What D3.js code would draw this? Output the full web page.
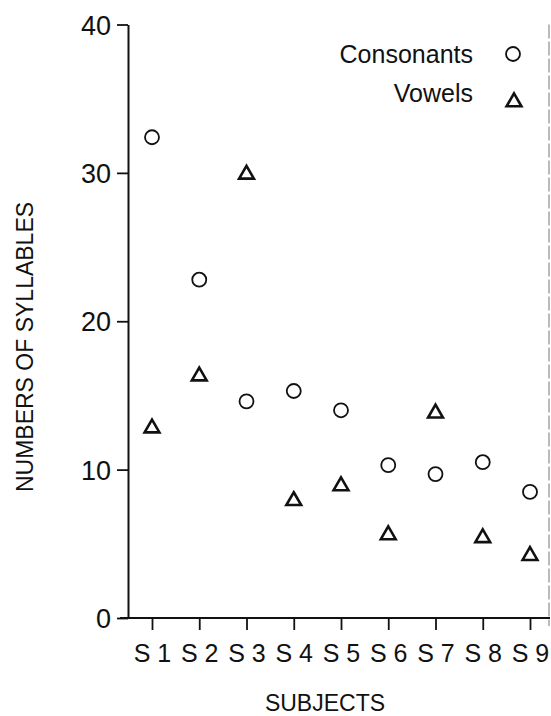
<!DOCTYPE html>
<html>
<head>
<meta charset="utf-8">
<script src="https://cdn.jsdelivr.net/npm/d3@7"></script>
<style>
  body { margin: 0; background: #fff; }
  svg text { font-family: "Liberation Sans", Arial, sans-serif; fill: #111; }
</style>
</head>
<body>
<script>
// data
var subjects = ["S1", "S2", "S3", "S4", "S5", "S6", "S7", "S8", "S9"];
var consonants = [32.4, 22.8, 14.6, 15.3, 14.0, 10.3, 9.7, 10.5, 8.5];
var vowels = [12.8, 16.3, 29.9, 7.9, 8.9, 5.6, 13.8, 5.4, 4.2];
var yTicks = [0, 10, 20, 30, 40];

var W = 551, H = 716;
var plotLeft = 128, plotRight = 550, plotTop = 24.5, plotBottom = 618;

var svg = d3.select("body").append("svg")
    .attr("width", W)
    .attr("height", H);

var x = d3.scalePoint().domain(subjects).range([152, 530]);
var y = d3.scaleLinear().domain([0, 40]).range([plotBottom, plotTop]);

// y axis
var yAxis = svg.append("g")
    .attr("transform", "translate(" + plotLeft + ",0)")
    .call(d3.axisLeft(y).tickValues(yTicks).tickSize(11).tickSizeOuter(0).tickPadding(6));
yAxis.select(".domain").attr("stroke", "#111").attr("stroke-width", 2);
yAxis.selectAll(".tick line").attr("stroke", "#111").attr("stroke-width", 1.8);
yAxis.selectAll(".tick text").attr("font-size", 27).attr("dy", "0.36em");

// x axis
var xAxis = svg.append("g")
    .attr("transform", "translate(0," + plotBottom + ")")
    .call(d3.axisBottom(x).tickSize(12).tickSizeOuter(0).tickPadding(14)
      .tickFormat(function(d) { return d.replace("S", "S "); }));
xAxis.select(".domain").remove();
xAxis.selectAll(".tick line").attr("stroke", "#111").attr("stroke-width", 1.8);
xAxis.selectAll(".tick text").attr("font-size", 25);
svg.append("line")
    .attr("x1", plotLeft - 8).attr("x2", plotRight)
    .attr("y1", plotBottom).attr("y2", plotBottom)
    .attr("stroke", "#111").attr("stroke-width", 2);

// faint right edge of the frame
svg.append("line")
    .attr("x1", 549).attr("x2", 549)
    .attr("y1", plotTop).attr("y2", plotBottom + 8)
    .attr("stroke", "#777").attr("stroke-width", 1)
    .attr("stroke-dasharray", "14,3");

// axis titles
svg.append("text")
    .attr("transform", "translate(33,347) rotate(-90)")
    .attr("text-anchor", "middle")
    .attr("font-size", 23)
    .text("NUMBERS OF SYLLABLES");

svg.append("text")
    .attr("x", 325).attr("y", 711)
    .attr("text-anchor", "middle")
    .attr("font-size", 23)
    .text("SUBJECTS");

// points
var tri = d3.symbol().type(d3.symbolTriangle).size(95);

svg.selectAll("circle.cons")
    .data(consonants)
    .enter()
    .append("circle")
    .attr("class", "cons")
    .attr("cx", function(d, i) { return x(subjects[i]); })
    .attr("cy", function(d) { return y(d); })
    .attr("r", 7)
    .attr("fill", "none")
    .attr("stroke", "#111")
    .attr("stroke-width", 1.8);

svg.selectAll("path.vow")
    .data(vowels)
    .enter()
    .append("path")
    .attr("class", "vow")
    .attr("d", tri)
    .attr("transform", function(d, i) { return "translate(" + x(subjects[i]) + "," + y(d) + ")"; })
    .attr("fill", "none")
    .attr("stroke", "#111")
    .attr("stroke-width", 2.6);

// legend
svg.append("text")
    .attr("x", 473).attr("y", 63)
    .attr("text-anchor", "end")
    .attr("font-size", 25)
    .text("Consonants");
svg.append("circle")
    .attr("cx", 513).attr("cy", 54)
    .attr("r", 7)
    .attr("fill", "none")
    .attr("stroke", "#111")
    .attr("stroke-width", 1.8);

svg.append("text")
    .attr("x", 473).attr("y", 102)
    .attr("text-anchor", "end")
    .attr("font-size", 25)
    .text("Vowels");
svg.append("path")
    .attr("d", tri)
    .attr("transform", "translate(514,102)")
    .attr("fill", "none")
    .attr("stroke", "#111")
    .attr("stroke-width", 2.6);
</script>
</body>
</html>
